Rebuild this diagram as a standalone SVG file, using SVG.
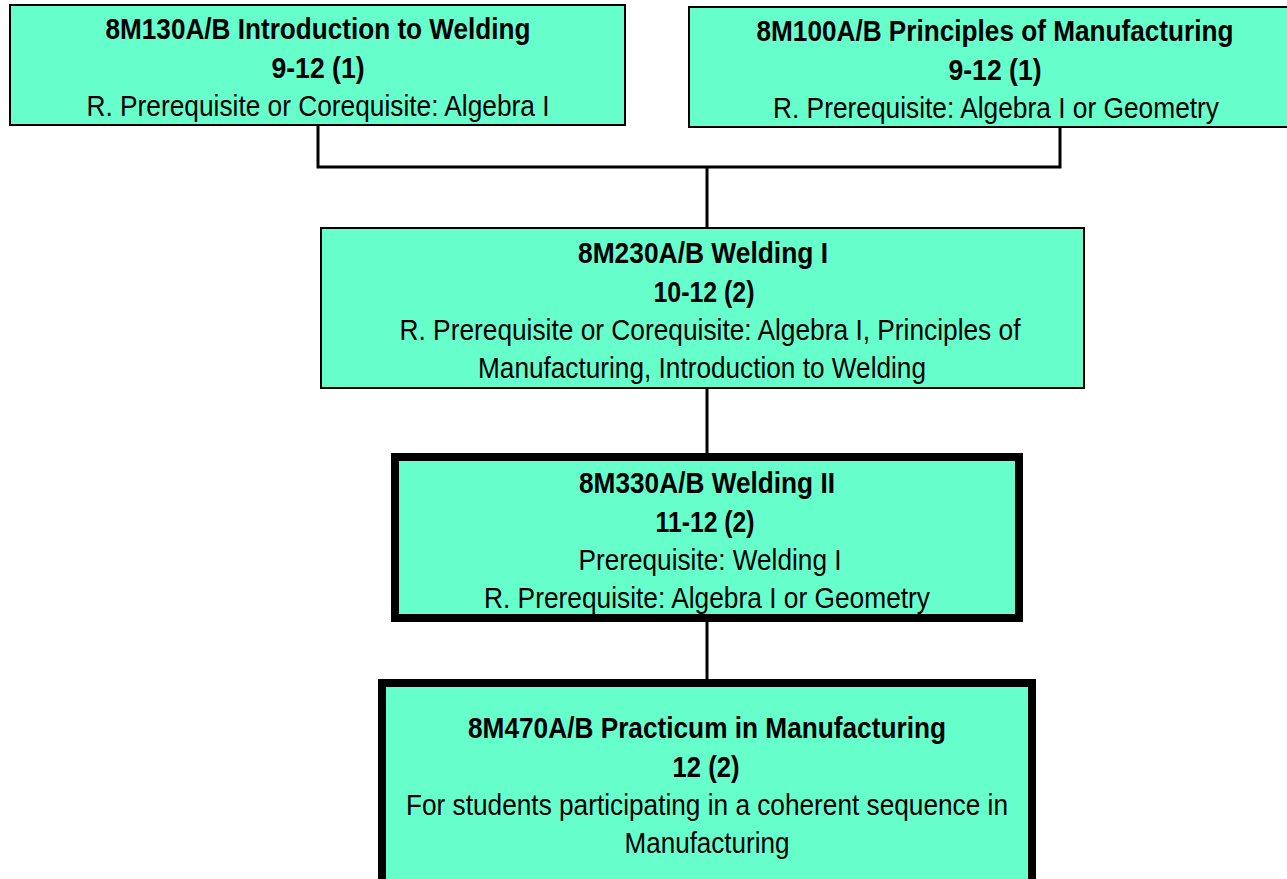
<svg xmlns="http://www.w3.org/2000/svg" width="1287" height="879" viewBox="0 0 1287 879">
<style>
.box{fill:#66FFCC;stroke:#000;stroke-width:2}
.thick{stroke-width:8}
.conn{fill:none;stroke:#000;stroke-width:3}
text{font-family:"Liberation Sans Narrow","Liberation Sans",Arial,sans-serif;font-size:30px;fill:#000;text-anchor:middle}
.b{font-weight:bold}
</style>
<rect width="1287" height="879" fill="#fff"/>
<g id="connectors">
<polyline class="conn" points="318,125 318,167 1060,167 1060,127"/>
<line class="conn" x1="707" y1="167" x2="707" y2="228"/>
<line class="conn" x1="707" y1="388" x2="707" y2="453"/>
<line class="conn" x1="707" y1="622" x2="707" y2="679"/>
</g>
<g id="intro-welding">
<rect class="box" x="10" y="5" width="615" height="120"/>
<text class="b" x="318" y="39" textLength="425" lengthAdjust="spacingAndGlyphs">8M130A/B Introduction to Welding</text>
<text class="b" x="318" y="78" textLength="93" lengthAdjust="spacingAndGlyphs">9-12 (1)</text>
<text x="318" y="116" textLength="463" lengthAdjust="spacingAndGlyphs">R. Prerequisite or Corequisite: Algebra I</text>
</g>
<g id="principles-manufacturing">
<rect class="box" x="689" y="7" width="599" height="120"/>
<text class="b" x="995" y="41" textLength="477" lengthAdjust="spacingAndGlyphs">8M100A/B Principles of Manufacturing</text>
<text class="b" x="995" y="80" textLength="93" lengthAdjust="spacingAndGlyphs">9-12 (1)</text>
<text x="996" y="118" textLength="446" lengthAdjust="spacingAndGlyphs">R. Prerequisite: Algebra I or Geometry</text>
</g>
<g id="welding-1">
<rect class="box" x="321" y="228" width="763" height="160"/>
<text class="b" x="703" y="263" textLength="250" lengthAdjust="spacingAndGlyphs">8M230A/B Welding I</text>
<text class="b" x="704" y="302" textLength="101" lengthAdjust="spacingAndGlyphs">10-12 (2)</text>
<text x="710" y="340" textLength="621" lengthAdjust="spacingAndGlyphs">R. Prerequisite or Corequisite: Algebra I, Principles of</text>
<text x="702" y="378" textLength="448" lengthAdjust="spacingAndGlyphs">Manufacturing, Introduction to Welding</text>
</g>
<g id="welding-2">
<rect class="box thick" x="395" y="457" width="624" height="161"/>
<text class="b" x="707" y="493" textLength="256" lengthAdjust="spacingAndGlyphs">8M330A/B Welding II</text>
<text class="b" x="705" y="532" textLength="99" lengthAdjust="spacingAndGlyphs">11-12 (2)</text>
<text x="710" y="570" textLength="263" lengthAdjust="spacingAndGlyphs">Prerequisite: Welding I</text>
<text x="707" y="608" textLength="446" lengthAdjust="spacingAndGlyphs">R. Prerequisite: Algebra I or Geometry</text>
</g>
<g id="practicum">
<rect class="box thick" x="382" y="683" width="650" height="230"/>
<text class="b" x="707" y="738" textLength="478" lengthAdjust="spacingAndGlyphs">8M470A/B Practicum in Manufacturing</text>
<text class="b" x="706" y="777" textLength="67" lengthAdjust="spacingAndGlyphs">12 (2)</text>
<text x="707" y="815" textLength="602" lengthAdjust="spacingAndGlyphs">For students participating in a coherent sequence in</text>
<text x="707" y="853" textLength="165" lengthAdjust="spacingAndGlyphs">Manufacturing</text>
</g>
</svg>
